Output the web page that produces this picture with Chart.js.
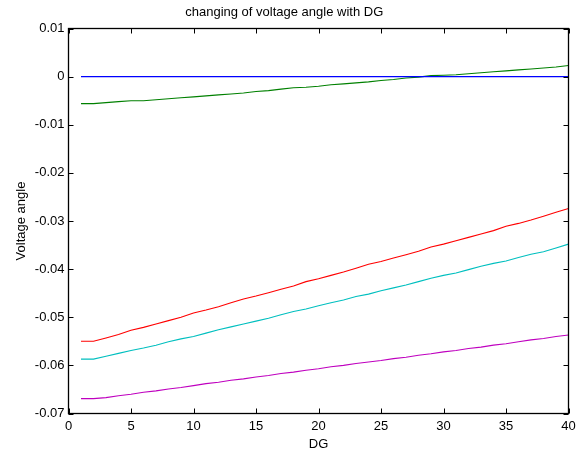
<!DOCTYPE html>
<html>
<head>
<meta charset="utf-8">
<title>changing of voltage angle with DG</title>
<script src="https://cdn.jsdelivr.net/npm/chart.js@4.4.1/dist/chart.umd.min.js"></script>
<style>
  html, body { margin: 0; padding: 0; background: #fff; }
  #wrap { width: 582px; height: 454px; }
</style>
</head>
<body>
<div id="wrap"><canvas id="c" width="582" height="454"></canvas></div>
<script>
// DG size steps
const dg = [1,2,3,4,5,6,7,8,9,10,11,12,13,14,15,16,17,18,19,20,
            21,22,23,24,25,26,27,28,29,30,31,32,33,34,35,36,37,38,39,40];

// voltage angle per bus
const busBlue = [0,0,0,0,0,0,0,0,0,0,0,0,0,0,0,0,0,0,0,0,
                 0,0,0,0,0,0,0,0,0,0,0,0,0,0,0,0,0,0,0,0];
const busGreen = [-0.0056,-0.0056,-0.0054,-0.0052,-0.0050,-0.0050,-0.0048,-0.0046,-0.0044,-0.0042,
                  -0.0040,-0.0038,-0.0036,-0.0034,-0.0031,-0.0029,-0.0026,-0.0023,-0.0022,-0.0020,
                  -0.0017,-0.0015,-0.0013,-0.0011,-0.0008,-0.0006,-0.0003,-0.0001,0.0002,0.0003,
                  0.0004,0.0006,0.0008,0.0010,0.0012,0.0014,0.0016,0.0018,0.0020,0.0023];
const busRed = [-0.0550,-0.0550,-0.0543,-0.0536,-0.0527,-0.0521,-0.0514,-0.0507,-0.0500,-0.0491,
                -0.0485,-0.0478,-0.0470,-0.0462,-0.0456,-0.0449,-0.0442,-0.0435,-0.0426,-0.0420,
                -0.0413,-0.0406,-0.0398,-0.0390,-0.0384,-0.0377,-0.0370,-0.0363,-0.0354,-0.0348,
                -0.0341,-0.0334,-0.0327,-0.0320,-0.0311,-0.0305,-0.0298,-0.0290,-0.0282,-0.0274];
const busCyan = [-0.0587,-0.0587,-0.0581,-0.0575,-0.0569,-0.0564,-0.0558,-0.0551,-0.0545,-0.0540,
                 -0.0533,-0.0526,-0.0520,-0.0514,-0.0508,-0.0502,-0.0495,-0.0488,-0.0483,-0.0476,
                 -0.0470,-0.0464,-0.0457,-0.0452,-0.0445,-0.0439,-0.0433,-0.0426,-0.0419,-0.0413,
                 -0.0408,-0.0401,-0.0394,-0.0388,-0.0383,-0.0376,-0.0369,-0.0364,-0.0356,-0.0348];
const busMagenta = [-0.0669,-0.0669,-0.0667,-0.0663,-0.0660,-0.0656,-0.0653,-0.0649,-0.0646,-0.0642,
                    -0.0638,-0.0635,-0.0631,-0.0628,-0.0624,-0.0621,-0.0617,-0.0614,-0.0610,-0.0607,
                    -0.0603,-0.0600,-0.0596,-0.0593,-0.0590,-0.0586,-0.0583,-0.0579,-0.0576,-0.0572,
                    -0.0569,-0.0565,-0.0562,-0.0558,-0.0555,-0.0551,-0.0547,-0.0544,-0.0540,-0.0537];

// axis ticks
const xTickValues = [0,5,10,15,20,25,30,35,40];
const xTickLabels = ['0','5','10','15','20','25','30','35','40'];
const yTickValues = [-0.07,-0.06,-0.05,-0.04,-0.03,-0.02,-0.01,0,0.01];
const yTickLabels = ['-0.07','-0.06','-0.05','-0.04','-0.03','-0.02','-0.01','0','0.01'];

const FONT = 'Liberation Sans, Arial, Helvetica, sans-serif';

function series(values, color) {
  return {
    data: dg.map((x, i) => ({ x: x, y: values[i] })),
    borderColor: color,
    borderWidth: 1.1,
    pointRadius: 0,
    tension: 0,
    fill: false
  };
}

// boxed axes with inward tick marks on all four sides
const boxAxes = {
  id: 'boxAxes',
  afterDatasetsDraw(chart) {
    const { ctx, chartArea: a, scales } = chart;
    const len = 5;
    ctx.save();
    ctx.strokeStyle = '#000';
    ctx.lineWidth = 1;
    ctx.beginPath();
    xTickValues.forEach(v => {
      const px = Math.round(scales.x.getPixelForValue(v)) + 0.5;
      ctx.moveTo(px, a.bottom); ctx.lineTo(px, a.bottom - len);
      ctx.moveTo(px, a.top); ctx.lineTo(px, a.top + len);
    });
    yTickValues.forEach(v => {
      const py = Math.round(scales.y.getPixelForValue(v)) + 0.5;
      ctx.moveTo(a.left, py); ctx.lineTo(a.left + len, py);
      ctx.moveTo(a.right, py); ctx.lineTo(a.right - len, py);
    });
    ctx.stroke();
    ctx.lineWidth = 1.3;
    ctx.strokeRect(a.left, a.top, a.right - a.left, a.bottom - a.top);
    ctx.restore();
  }
};

new Chart(document.getElementById('c'), {
  type: 'line',
  data: {
    datasets: [
      series(busBlue, '#0000ff'),
      series(busGreen, '#008000'),
      series(busRed, '#ff0000'),
      series(busCyan, '#00bfbf'),
      series(busMagenta, '#bf00bf')
    ]
  },
  options: {
    responsive: false,
    animation: false,
    devicePixelRatio: 1,
    layout: { padding: { left: 0, right: 13.5, top: 0, bottom: 0 } },
    plugins: {
      legend: { display: false },
      tooltip: { enabled: false },
      title: {
        display: true,
        text: 'changing of voltage angle with DG',
        color: '#000',
        font: { family: FONT, size: 13, weight: 'normal' },
        padding: { top: 5, bottom: 7.9 }
      }
    },
    scales: {
      x: {
        type: 'linear',
        min: 0,
        max: 40,
        afterBuildTicks: s => { s.ticks = xTickValues.map(v => ({ value: v })); },
        afterFit: s => { s.height = 40.5; },
        grid: { display: false, drawTicks: false },
        border: { display: false },
        ticks: {
          autoSkip: false,
          maxRotation: 0,
          padding: 5,
          color: '#000',
          font: { family: FONT, size: 13 },
          callback: (v) => xTickLabels[xTickValues.indexOf(v)]
        },
        title: {
          display: true,
          text: 'DG',
          color: '#000',
          font: { family: FONT, size: 13 },
          padding: { top: 0, bottom: 2.2 }
        }
      },
      y: {
        type: 'linear',
        min: -0.07,
        max: 0.01,
        afterBuildTicks: s => { s.ticks = yTickValues.map(v => ({ value: v })); },
        afterFit: s => { s.width = 68.5; },
        grid: { display: false, drawTicks: false },
        border: { display: false },
        ticks: {
          autoSkip: false,
          padding: 4,
          color: '#000',
          font: { family: FONT, size: 13 },
          callback: (v) => {
            const i = yTickValues.findIndex(t => Math.abs(t - v) < 1e-9);
            return i >= 0 ? yTickLabels[i] : '';
          }
        },
        title: {
          display: true,
          text: 'Voltage angle',
          color: '#000',
          font: { family: FONT, size: 13 },
          padding: { top: 14, bottom: 0 }
        }
      }
    }
  },
  plugins: [boxAxes]
});
</script>
</body>
</html>
